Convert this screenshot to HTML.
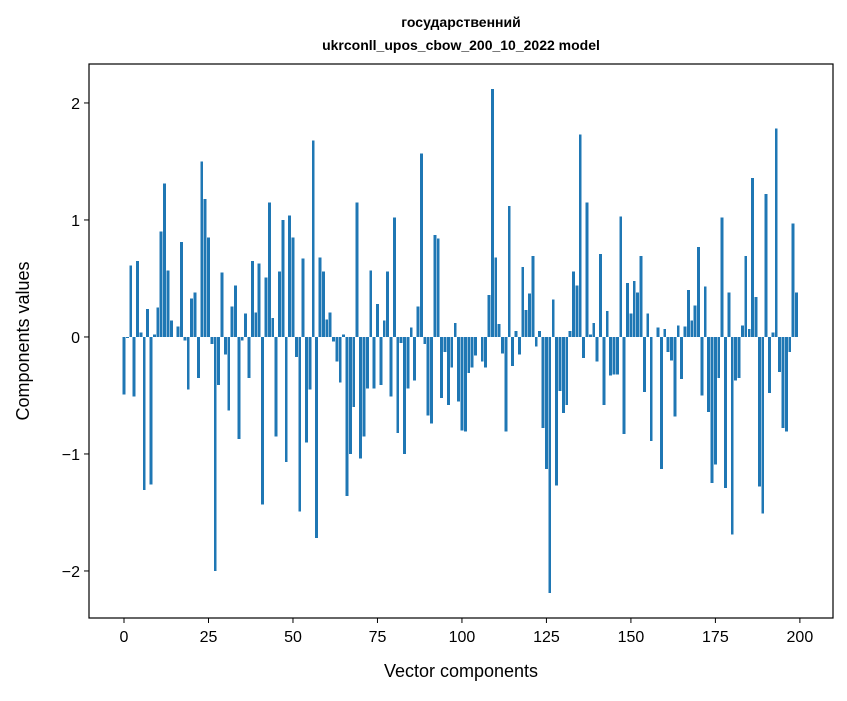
<!DOCTYPE html>
<html><head><meta charset="utf-8"><style>
body{margin:0;background:#fff;font-family:"Liberation Sans","DejaVu Sans",sans-serif}
svg text{font-family:"Liberation Sans","DejaVu Sans",sans-serif}
</style></head><body>
<svg id="chart" width="847" height="696" viewBox="0 0 847 696" xmlns="http://www.w3.org/2000/svg">
<rect width="847" height="696" fill="#fff"/>
<text x="461" y="27" text-anchor="middle" font-size="14" font-weight="bold">государственний</text>
<text x="461" y="50" text-anchor="middle" font-size="14" font-weight="bold">ukrconll_upos_cbow_200_10_2022 model</text>
<g id="bars"></g>
<g id="axes"></g>
<rect x="89" y="64" width="744" height="554" fill="none" stroke="#000" stroke-width="1.2"/>
<text x="461" y="677" text-anchor="middle" font-size="18">Vector components</text>
<text transform="translate(29,341) rotate(-90)" text-anchor="middle" font-size="18">Components values</text>
</svg>
<script>
const values = [
-0.49,-0.01,0.61,-0.51,0.65,0.04,-1.31,0.24,-1.26,0.02,
0.25,0.90,1.31,0.57,0.14,0.0,0.09,0.81,-0.03,-0.45,
0.33,0.38,-0.35,1.50,1.18,0.85,-0.06,-2.00,-0.41,0.55,
-0.15,-0.63,0.26,0.44,-0.87,-0.03,0.20,-0.35,0.65,0.21,
0.63,-1.43,0.51,1.15,0.16,-0.85,0.56,1.00,-1.07,1.04,
0.85,-0.17,-1.49,0.67,-0.90,-0.45,1.68,-1.72,0.68,0.56,
0.15,0.21,-0.04,-0.21,-0.39,0.02,-1.36,-1.00,-0.60,1.15,
-1.04,-0.85,-0.44,0.57,-0.44,0.28,-0.41,0.14,0.56,-0.51,
1.02,-0.82,-0.05,-1.00,-0.44,0.08,-0.37,0.26,1.57,-0.06,
-0.67,-0.74,0.87,0.84,-0.52,-0.13,-0.58,-0.26,0.12,-0.55,
-0.80,-0.81,-0.31,-0.26,-0.16,0.0,-0.21,-0.26,0.36,2.12,
0.68,0.11,-0.14,-0.81,1.12,-0.25,0.05,-0.15,0.60,0.23,
0.37,0.69,-0.08,0.05,-0.78,-1.13,-2.19,0.32,-1.27,-0.46,
-0.65,-0.58,0.05,0.56,0.44,1.73,-0.18,1.15,0.02,0.12,
-0.21,0.71,-0.58,0.22,-0.33,-0.32,-0.32,1.03,-0.83,0.46,
0.20,0.48,0.38,0.69,-0.47,0.20,-0.89,0.0,0.08,-1.13,
0.07,-0.13,-0.20,-0.68,0.10,-0.36,0.09,0.40,0.14,0.27,
0.77,-0.50,0.43,-0.64,-1.25,-1.09,-0.35,1.02,-1.29,0.38,
-1.69,-0.37,-0.35,0.10,0.69,0.07,1.36,0.34,-1.28,-1.51,
1.22,-0.48,0.04,1.78,-0.30,-0.78,-0.81,-0.13,0.97,0.38];
const xTicks = [0,25,50,75,100,125,150,175,200];
const yTicks = [-2,-1,0,1,2];
const NS="http://www.w3.org/2000/svg";
const L=89,R=833,T=64,B=618, xMin=-10.36, xMax=209.8, yMin=-2.402, yMax=2.333;
const sx=v=>L+(v-xMin)/(xMax-xMin)*(R-L);
const sy=v=>B-(v-yMin)/(yMax-yMin)*(B-T);
const bars=document.getElementById('bars'), axes=document.getElementById('axes');
const bw=(sx(0.85)-sx(0));
values.forEach((v,i)=>{
  const r=document.createElementNS(NS,'rect');
  const y0=sy(0), y1=sy(v);
  r.setAttribute('x',sx(i)-bw/2);
  r.setAttribute('y',Math.min(y0,y1));
  r.setAttribute('width',bw);
  r.setAttribute('height',Math.max(Math.abs(y1-y0),0.01));
  r.setAttribute('fill','#1f77b4');
  r.setAttribute('shape-rendering','crispEdges');
  
  
  bars.appendChild(r);
});
xTicks.forEach(t=>{
  const l=document.createElementNS(NS,'line');
  l.setAttribute('x1',sx(t));l.setAttribute('x2',sx(t));l.setAttribute('y1',B);l.setAttribute('y2',B+5);
  l.setAttribute('stroke','#000');
  
  
  axes.appendChild(l);
  const tx=document.createElementNS(NS,'text');
  tx.setAttribute('x',sx(t));tx.setAttribute('y',B+24);tx.setAttribute('text-anchor','middle');tx.setAttribute('font-size','16');
  tx.textContent=t;
  
  
  axes.appendChild(tx);
});
yTicks.forEach(t=>{
  const l=document.createElementNS(NS,'line');
  l.setAttribute('x1',L-5);l.setAttribute('x2',L);l.setAttribute('y1',sy(t));l.setAttribute('y2',sy(t));
  l.setAttribute('stroke','#000');
  
  
  axes.appendChild(l);
  const tx=document.createElementNS(NS,'text');
  tx.setAttribute('x',L-9);tx.setAttribute('y',sy(t)+6);tx.setAttribute('text-anchor','end');tx.setAttribute('font-size','16');
  tx.textContent=t<0?'\u2212'+(-t):String(t);
  
  
  axes.appendChild(tx);
});
</script>
</body></html>
